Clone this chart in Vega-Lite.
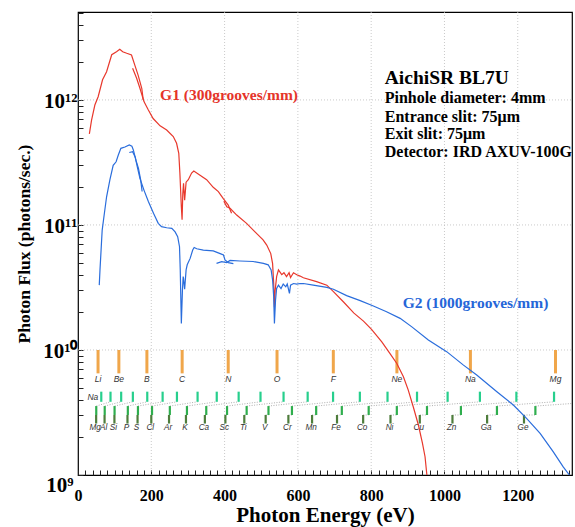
{
"$schema": "https://vega.github.io/schema/vega-lite/v6.json",
"width": 494, "height": 463,
"autosize": {"type": "none"},
"padding": {"left": 78, "top": 12, "right": 3, "bottom": 52},
"background": "white",
"config": {"view": {"stroke": "#000", "strokeWidth": 1.2}, "font": "Liberation Serif"},
"resolve": {"axis": {"x": "independent", "y": "independent"}},
"datasets": {
"curves": [
{"g":"G1","s":"r1","E":31,"F":5.35e11},{"g":"G1","s":"r1","E":37,"F":6.9e11},{"g":"G1","s":"r1","E":46,"F":9.1e11},{"g":"G1","s":"r1","E":55,"F":1.06e12},{"g":"G1","s":"r1","E":67,"F":1.45e12},{"g":"G1","s":"r1","E":78,"F":1.68e12},{"g":"G1","s":"r1","E":92,"F":2.3e12},{"g":"G1","s":"r1","E":105,"F":2.43e12},{"g":"G1","s":"r1","E":114,"F":2.54e12},{"g":"G1","s":"r1","E":122,"F":2.43e12},{"g":"G1","s":"r1","E":133,"F":2.36e12},{"g":"G1","s":"r1","E":146,"F":2.29e12},{"g":"G1","s":"r1","E":155,"F":1.9e12},{"g":"G1","s":"r1","E":164,"F":1.58e12},{"g":"G1","s":"r1","E":174,"F":1.24e12},{"g":"G1","s":"r1","E":178,"F":1.0e12},
{"g":"G1","s":"r2","E":149,"F":1.79e12},{"g":"G1","s":"r2","E":160,"F":1.49e12},{"g":"G1","s":"r2","E":169,"F":1.24e12},{"g":"G1","s":"r2","E":180,"F":9.7e11},{"g":"G1","s":"r2","E":192,"F":8.3e11},{"g":"G1","s":"r2","E":205,"F":7.1e11},{"g":"G1","s":"r2","E":224,"F":6.2e11},{"g":"G1","s":"r2","E":242,"F":5.75e11},{"g":"G1","s":"r2","E":260,"F":5.1e11},{"g":"G1","s":"r2","E":269,"F":4.5e11},{"g":"G1","s":"r2","E":275,"F":3.74e11},{"g":"G1","s":"r2","E":278,"F":2.6e11},{"g":"G1","s":"r2","E":282,"F":1.4e11},{"g":"G1","s":"r2","E":284,"F":1.1e11},{"g":"G1","s":"r2","E":286,"F":1.79e11},{"g":"G1","s":"r2","E":288,"F":2.15e11},{"g":"G1","s":"r2","E":291,"F":1.58e11},{"g":"G1","s":"r2","E":295,"F":2.2e11},{"g":"G1","s":"r2","E":301,"F":2.3e11},{"g":"G1","s":"r2","E":310,"F":2.6e11},{"g":"G1","s":"r2","E":316,"F":2.7e11},{"g":"G1","s":"r2","E":333,"F":2.5e11},{"g":"G1","s":"r2","E":351,"F":2.3e11},{"g":"G1","s":"r2","E":369,"F":2.0e11},{"g":"G1","s":"r2","E":383,"F":1.85e11},{"g":"G1","s":"r2","E":396,"F":1.63e11},{"g":"G1","s":"r2","E":410,"F":1.44e11},{"g":"G1","s":"r2","E":419,"F":1.24e11},
{"g":"G1","s":"r3","E":398,"F":1.55e11},{"g":"G1","s":"r3","E":406,"F":1.4e11},{"g":"G1","s":"r3","E":415,"F":1.36e11},{"g":"G1","s":"r3","E":433,"F":1.2e11},{"g":"G1","s":"r3","E":460,"F":1.03e11},{"g":"G1","s":"r3","E":483,"F":8.8e10},{"g":"G1","s":"r3","E":505,"F":7.6e10},{"g":"G1","s":"r3","E":515,"F":6.9e10},{"g":"G1","s":"r3","E":526,"F":5.9e10},{"g":"G1","s":"r3","E":531,"F":4.9e10},{"g":"G1","s":"r3","E":534,"F":3.4e10},{"g":"G1","s":"r3","E":536,"F":2.2e10},{"g":"G1","s":"r3","E":538,"F":3.0e10},{"g":"G1","s":"r3","E":542,"F":3.86e10},{"g":"G1","s":"r3","E":547,"F":4.37e10},{"g":"G1","s":"r3","E":556,"F":4.0e10},{"g":"G1","s":"r3","E":562,"F":4.15e10},{"g":"G1","s":"r3","E":569,"F":3.86e10},{"g":"G1","s":"r3","E":576,"F":4.15e10},{"g":"G1","s":"r3","E":580,"F":3.8e10},{"g":"G1","s":"r3","E":588,"F":4.15e10},{"g":"G1","s":"r3","E":597,"F":4.0e10},{"g":"G1","s":"r3","E":606,"F":3.9e10},{"g":"G1","s":"r3","E":615,"F":3.78e10},{"g":"G1","s":"r3","E":651,"F":3.52e10},{"g":"G1","s":"r3","E":679,"F":3.3e10},{"g":"G1","s":"r3","E":697,"F":2.93e10},{"g":"G1","s":"r3","E":724,"F":2.43e10},{"g":"G1","s":"r3","E":753,"F":1.97e10},{"g":"G1","s":"r3","E":779,"F":1.7e10},{"g":"G1","s":"r3","E":801,"F":1.46e10},{"g":"G1","s":"r3","E":829,"F":1.16e10},{"g":"G1","s":"r3","E":851,"F":9.4e9},{"g":"G1","s":"r3","E":870,"F":7.8e9},{"g":"G1","s":"r3","E":888,"F":6.1e9},{"g":"G1","s":"r3","E":901,"F":4.8e9},{"g":"G1","s":"r3","E":915,"F":3.5e9},{"g":"G1","s":"r3","E":929,"F":2.5e9},{"g":"G1","s":"r3","E":940,"F":1.79e9},{"g":"G1","s":"r3","E":947,"F":1.4e9},{"g":"G1","s":"r3","E":952,"F":1.0e9},
{"g":"G2","s":"b1","E":58,"F":3.3e10},{"g":"G2","s":"b1","E":60,"F":4.37e10},{"g":"G2","s":"b1","E":63,"F":6.3e10},{"g":"G2","s":"b1","E":66,"F":9.1e10},{"g":"G2","s":"b1","E":72,"F":1.24e11},{"g":"G2","s":"b1","E":78,"F":1.68e11},{"g":"G2","s":"b1","E":87,"F":2.29e11},{"g":"G2","s":"b1","E":96,"F":3.0e11},{"g":"G2","s":"b1","E":104,"F":3.2e11},{"g":"G2","s":"b1","E":110,"F":3.63e11},{"g":"G2","s":"b1","E":117,"F":4.1e11},{"g":"G2","s":"b1","E":128,"F":4.2e11},{"g":"G2","s":"b1","E":140,"F":4.37e11},{"g":"G2","s":"b1","E":147,"F":4.27e11},{"g":"G2","s":"b1","E":151,"F":3.98e11},{"g":"G2","s":"b1","E":158,"F":3.3e11},{"g":"G2","s":"b1","E":165,"F":2.84e11},{"g":"G2","s":"b1","E":171,"F":2.29e11},{"g":"G2","s":"b1","E":175,"F":1.85e11},
{"g":"G2","s":"b2","E":140,"F":3.8e11},{"g":"G2","s":"b2","E":149,"F":3.86e11},{"g":"G2","s":"b2","E":156,"F":3.5e11},{"g":"G2","s":"b2","E":162,"F":2.9e11},{"g":"G2","s":"b2","E":169,"F":2.36e11},{"g":"G2","s":"b2","E":180,"F":1.9e11},{"g":"G2","s":"b2","E":192,"F":1.54e11},{"g":"G2","s":"b2","E":206,"F":1.24e11},{"g":"G2","s":"b2","E":219,"F":1.03e11},{"g":"G2","s":"b2","E":228,"F":9.7e10},{"g":"G2","s":"b2","E":242,"F":9.5e10},{"g":"G2","s":"b2","E":256,"F":9.4e10},{"g":"G2","s":"b2","E":265,"F":8.8e10},{"g":"G2","s":"b2","E":272,"F":8.05e10},{"g":"G2","s":"b2","E":277,"F":6.7e10},{"g":"G2","s":"b2","E":279,"F":4.37e10},{"g":"G2","s":"b2","E":282,"F":1.63e10},{"g":"G2","s":"b2","E":285,"F":3.0e10},{"g":"G2","s":"b2","E":287,"F":3.86e10},{"g":"G2","s":"b2","E":288,"F":3.74e10},{"g":"G2","s":"b2","E":291,"F":3.06e10},{"g":"G2","s":"b2","E":295,"F":4.37e10},{"g":"G2","s":"b2","E":298,"F":4.8e10},{"g":"G2","s":"b2","E":306,"F":5.4e10},{"g":"G2","s":"b2","E":313,"F":6.3e10},{"g":"G2","s":"b2","E":317,"F":6.6e10},{"g":"G2","s":"b2","E":324,"F":6.45e10},{"g":"G2","s":"b2","E":342,"F":6.3e10},{"g":"G2","s":"b2","E":369,"F":6.2e10},{"g":"G2","s":"b2","E":388,"F":5.9e10},{"g":"G2","s":"b2","E":397,"F":5.75e10},{"g":"G2","s":"b2","E":401,"F":5.25e10},{"g":"G2","s":"b2","E":410,"F":5.0e10},{"g":"G2","s":"b2","E":424,"F":4.9e10},
{"g":"G2","s":"b3","E":378,"F":4.93e10},{"g":"G2","s":"b3","E":392,"F":5.08e10},{"g":"G2","s":"b3","E":406,"F":5.0e10},{"g":"G2","s":"b3","E":415,"F":5.2e10},{"g":"G2","s":"b3","E":442,"F":5.15e10},{"g":"G2","s":"b3","E":478,"F":5.1e10},{"g":"G2","s":"b3","E":506,"F":4.93e10},{"g":"G2","s":"b3","E":519,"F":4.8e10},{"g":"G2","s":"b3","E":527,"F":4.37e10},{"g":"G2","s":"b3","E":531,"F":3.63e10},{"g":"G2","s":"b3","E":534,"F":2.67e10},{"g":"G2","s":"b3","E":536,"F":1.63e10},{"g":"G2","s":"b3","E":539,"F":2.5e10},{"g":"G2","s":"b3","E":542,"F":3.1e10},{"g":"G2","s":"b3","E":547,"F":3.3e10},{"g":"G2","s":"b3","E":554,"F":3.1e10},{"g":"G2","s":"b3","E":560,"F":3.37e10},{"g":"G2","s":"b3","E":567,"F":3.2e10},{"g":"G2","s":"b3","E":571,"F":3.37e10},{"g":"G2","s":"b3","E":577,"F":2.84e10},{"g":"G2","s":"b3","E":580,"F":3.3e10},{"g":"G2","s":"b3","E":588,"F":3.4e10},{"g":"G2","s":"b3","E":597,"F":3.36e10},{"g":"G2","s":"b3","E":606,"F":3.4e10},{"g":"G2","s":"b3","E":615,"F":3.4e10},{"g":"G2","s":"b3","E":642,"F":3.3e10},{"g":"G2","s":"b3","E":679,"F":3.17e10},{"g":"G2","s":"b3","E":697,"F":3.06e10},{"g":"G2","s":"b3","E":733,"F":2.72e10},{"g":"G2","s":"b3","E":770,"F":2.48e10},{"g":"G2","s":"b3","E":806,"F":2.25e10},{"g":"G2","s":"b3","E":842,"F":2.02e10},{"g":"G2","s":"b3","E":879,"F":1.79e10},{"g":"G2","s":"b3","E":911,"F":1.53e10},{"g":"G2","s":"b3","E":956,"F":1.2e10},{"g":"G2","s":"b3","E":1006,"F":9.7e9},{"g":"G2","s":"b3","E":1051,"F":7.6e9},{"g":"G2","s":"b3","E":1088,"F":6.3e9},{"g":"G2","s":"b3","E":1143,"F":4.64e9},{"g":"G2","s":"b3","E":1188,"F":3.63e9},{"g":"G2","s":"b3","E":1224,"F":2.84e9},{"g":"G2","s":"b3","E":1261,"F":2.15e9},{"g":"G2","s":"b3","E":1297,"F":1.53e9},{"g":"G2","s":"b3","E":1324,"F":1.16e9},{"g":"G2","s":"b3","E":1341,"F":1.0e9}
],
"vgrid": [{"E":200},{"E":400},{"E":600},{"E":800},{"E":1000},{"E":1200}],
"hgrid": [{"F":1e10},{"F":1e11},{"F":1e12}],
"kedge": [{"el":"Li","E":54.7},{"el":"Be","E":111.5},{"el":"B","E":188},{"el":"C","E":284.2},{"el":"N","E":409.9},{"el":"O","E":543.1},{"el":"F","E":696.7},{"el":"Ne","E":870.2},{"el":"Na","E":1070.8},{"el":"Mg","E":1303}],
"l1": [{"el":"Na","E":63.5},{"el":"Mg","E":88.7},{"el":"Al","E":117.8},{"el":"Si","E":149.7},{"el":"P","E":189},{"el":"S","E":230.9},{"el":"Cl","E":270},{"el":"Ar","E":326.3},{"el":"K","E":378.6},{"el":"Ca","E":438.4},{"el":"Sc","E":498},{"el":"Ti","E":560.9},{"el":"V","E":626.7},{"el":"Cr","E":696},{"el":"Mn","E":769.1},{"el":"Fe","E":844.6},{"el":"Co","E":925.1},{"el":"Ni","E":1008.6},{"el":"Cu","E":1096.7},{"el":"Zn","E":1196.2},{"el":"Ga","E":1299}],
"l23": [{"el":"Mg","L1":88.7,"L2":49.8,"L3":49.5},{"el":"Al","L1":117.8,"L2":72.9,"L3":72.5},{"el":"Si","L1":149.7,"L2":99.8,"L3":99.4},{"el":"P","L1":189,"L2":136,"L3":135},{"el":"S","L1":230.9,"L2":163.6,"L3":162.5},{"el":"Cl","L1":270,"L2":202,"L3":200},{"el":"Ar","L1":326.3,"L2":250.6,"L3":248.4},{"el":"K","L1":378.6,"L2":297.3,"L3":294.6},{"el":"Ca","L1":438.4,"L2":350,"L3":346.2},{"el":"Sc","L1":498,"L2":406.7,"L3":402.2},{"el":"Ti","L1":560.9,"L2":460.2,"L3":453.8},{"el":"V","L1":626.7,"L2":519.8,"L3":512.1},{"el":"Cr","L1":696,"L2":583.8,"L3":574.1},{"el":"Mn","L1":769.1,"L2":649.9,"L3":638.7},{"el":"Fe","L1":844.6,"L2":719.9,"L3":706.8},{"el":"Co","L1":925.1,"L2":793.2,"L3":778.1},{"el":"Ni","L1":1008.6,"L2":870,"L3":852.7},{"el":"Cu","L1":1096.7,"L2":952.3,"L3":932.7},{"el":"Zn","L1":1196.2,"L2":1044.9,"L3":1021.8},{"el":"Ga","L1":1299,"L2":1143.2,"L3":1116.4},{"el":"Ge","L1":1414.6,"L2":1248.1,"L3":1217}],
"title": [{"text":"AichiSR BL7U","E":837,"F":1.341e12}],
"info": [{"text":"Pinhole diameter: 4mm","E":837,"F":9.4e11},{"text":"Entrance slit: 75μm","E":837,"F":6.7e11},{"text":"Exit slit: 75μm","E":837,"F":4.84e11},{"text":"Detector: IRD AXUV-100G","E":837,"F":3.52e11}],
"g1": [{"text":"G1 (300grooves/mm)","E":224,"F":9.97e11}],
"g2": [{"text":"G2 (1000grooves/mm)","E":886,"F":2.15e10}]
},
"layer": [
{"data":{"name":"vgrid"},"mark":{"type":"rule","color":"#bdbdbd","strokeWidth":0.8,"strokeDash":[1,2]},
 "encoding":{"x":{"field":"E","type":"quantitative","scale":{"domain":[0,1348],"nice":false,"zero":false},"axis":null},
  "y":{"datum":1e9,"type":"quantitative","scale":{"type":"log","domain":[1e9,5.05e12],"nice":false},"axis":null},
  "y2":{"datum":5.05e12}}},
{"data":{"name":"hgrid"},"mark":{"type":"rule","color":"#bdbdbd","strokeWidth":0.8,"strokeDash":[1,2]},
 "encoding":{"y":{"field":"F","type":"quantitative","scale":{"type":"log","domain":[1e9,5.05e12],"nice":false},"axis":null},
  "x":{"datum":0,"type":"quantitative","scale":{"domain":[0,1348],"nice":false,"zero":false},"axis":null},
  "x2":{"datum":1348}}},
{"data":{"name":"kedge"},"mark":{"type":"rule","color":"#f0a64a","strokeWidth":3},
 "encoding":{"x":{"field":"E","type":"quantitative","scale":{"domain":[0,1348],"nice":false,"zero":false},"axis":null},
  "y":{"datum":6.5e9,"type":"quantitative","scale":{"type":"log","domain":[1e9,5.05e12],"nice":false},"axis":null},
  "y2":{"datum":1e10}}},
{"data":{"name":"kedge"},"mark":{"type":"text","font":"Liberation Sans","fontStyle":"italic","fontSize":8.5,"color":"#333","align":"center","baseline":"middle"},
 "encoding":{"x":{"field":"E","type":"quantitative","scale":{"domain":[0,1348],"nice":false,"zero":false},"axis":null},
  "y":{"datum":5.9e9,"type":"quantitative","scale":{"type":"log","domain":[1e9,5.05e12],"nice":false},"axis":null},
  "text":{"field":"el"}}},
{"data":{"name":"l23"},"mark":{"type":"rule","color":"#999","strokeWidth":0.8,"strokeDash":[1,1.5],"clip":true},
 "encoding":{"x":{"field":"L2","type":"quantitative","scale":{"domain":[0,1348],"nice":false,"zero":false},"axis":null},"x2":{"field":"L1"},
  "y":{"datum":3.56e9,"type":"quantitative","scale":{"type":"log","domain":[1e9,5.05e12],"nice":false},"axis":null},"y2":{"datum":3.85e9}}},
{"data":{"name":"l23"},"mark":{"type":"rule","color":"#999","strokeWidth":0.8,"strokeDash":[1,1.5]},
 "encoding":{"x":{"field":"L3","type":"quantitative","scale":{"domain":[0,1348],"nice":false,"zero":false},"axis":null},"x2":{"field":"L2"},
  "y":{"datum":3.02e9,"type":"quantitative","scale":{"type":"log","domain":[1e9,5.05e12],"nice":false},"axis":null}}},
{"data":{"name":"l1"},"mark":{"type":"rule","color":"#27cf8d","strokeWidth":2.2},
 "encoding":{"x":{"field":"E","type":"quantitative","scale":{"domain":[0,1348],"nice":false,"zero":false},"axis":null},
  "y":{"datum":3.85e9,"type":"quantitative","scale":{"type":"log","domain":[1e9,5.05e12],"nice":false},"axis":null},"y2":{"datum":4.64e9}}},
{"data":{"name":"l23"},"mark":{"type":"rule","color":"#2fae4e","strokeWidth":2.2},
 "encoding":{"x":{"field":"L2","type":"quantitative","scale":{"domain":[0,1348],"nice":false,"zero":false},"axis":null},
  "y":{"datum":3.02e9,"type":"quantitative","scale":{"type":"log","domain":[1e9,5.05e12],"nice":false},"axis":null},"y2":{"datum":3.56e9}}},
{"data":{"name":"l23"},"mark":{"type":"rule","color":"#4e7d3c","strokeWidth":2.2},
 "encoding":{"x":{"field":"L3","type":"quantitative","scale":{"domain":[0,1348],"nice":false,"zero":false},"axis":null},
  "y":{"datum":2.58e9,"type":"quantitative","scale":{"type":"log","domain":[1e9,5.05e12],"nice":false},"axis":null},"y2":{"datum":3.02e9}}},
{"data":{"name":"l23"},"mark":{"type":"text","font":"Liberation Sans","fontStyle":"italic","fontSize":8.2,"color":"#333","align":"center","baseline":"middle","dx":-1},
 "encoding":{"x":{"field":"L3","type":"quantitative","scale":{"domain":[0,1348],"nice":false,"zero":false},"axis":null},
  "y":{"datum":2.37e9,"type":"quantitative","scale":{"type":"log","domain":[1e9,5.05e12],"nice":false},"axis":null},
  "text":{"field":"el"}}},
{"data":{"name":"l1"},"transform":[{"filter":"datum.el == 'Na'"}],"mark":{"type":"text","font":"Liberation Sans","fontStyle":"italic","fontSize":8.5,"color":"#333","align":"right","baseline":"middle","dx":-3},
 "encoding":{"x":{"field":"E","type":"quantitative","scale":{"domain":[0,1348],"nice":false,"zero":false},"axis":null},
  "y":{"datum":4.23e9,"type":"quantitative","scale":{"type":"log","domain":[1e9,5.05e12],"nice":false},"axis":null},
  "text":{"field":"el"}}},
{"data":{"name":"curves"},"mark":{"type":"line","strokeWidth":1.2,"clip":true},
 "encoding":{"x":{"field":"E","type":"quantitative","scale":{"domain":[0,1348],"nice":false,"zero":false},
   "axis":{"orient":"bottom","values":[0,20,40,60,80,100,120,140,160,180,200,220,240,260,280,300,320,340,360,380,400,420,440,460,480,500,520,540,560,580,600,620,640,660,680,700,720,740,760,780,800,820,840,860,880,900,920,940,960,980,1000,1020,1040,1060,1080,1100,1120,1140,1160,1180,1200,1220,1240,1260,1280,1300,1320,1340],
    "labelExpr":"datum.value % 200 == 0 ? format(datum.value, 'd') : ''","ticks":true,"tickSize":-5,"tickColor":"#222","tickWidth":1,"domain":false,"grid":false,
    "labelFont":"Liberation Serif","labelFontWeight":"bold","labelFontSize":16,"labelColor":"#000","labelPadding":17,"labelFlush":false,"labelOverlap":false,
    "title":"Photon Energy (eV)","titleFont":"Liberation Serif","titleFontWeight":"bold","titleFontSize":21,"titleColor":"#000","titlePadding":1}},
  "y":{"field":"F","type":"quantitative","scale":{"type":"log","domain":[1e9,5.05e12],"nice":false},
   "axis":{"orient":"left","values":[1e9,2e9,3e9,4e9,5e9,6e9,7e9,8e9,9e9,1e10,2e10,3e10,4e10,5e10,6e10,7e10,8e10,9e10,1e11,2e11,3e11,4e11,5e11,6e11,7e11,8e11,9e11,1e12,2e12,3e12,4e12,5e12],
    "ticks":true,"tickSize":-5,"tickColor":"#222","tickWidth":1,"domain":false,"grid":false,
    "labelExpr":"datum.value == 1e9 ? '10⁹' : datum.value == 1e10 ? '10¹⁰' : datum.value == 1e11 ? '10¹¹' : datum.value == 1e12 ? '10¹²' : ''",
    "labelFont":"Liberation Serif","labelFontWeight":"bold","labelFontSize":21,"labelColor":"#000","labelOverlap":false,
    "labelPadding":{"condition":{"test":"datum.value < 2e9","value":10},"value":6},"labelBaseline":"middle",
    "labelOffset":{"condition":{"test":"datum.value < 2e9","value":10},"value":2},
    "title":"Photon Flux (photons/sec.)","titleFont":"Liberation Serif","titleFontWeight":"bold","titleFontSize":17.5,"titleColor":"#000","titlePadding":9}},
  "color":{"field":"g","type":"nominal","scale":{"domain":["G1","G2"],"range":["#e8382c","#2a6ddc"]},"legend":null},
  "detail":{"field":"s"}}},
{"data":{"name":"title"},"mark":{"type":"text","font":"Liberation Serif","fontWeight":"bold","fontSize":19.5,"color":"#000","align":"left","baseline":"alphabetic"},
 "encoding":{"x":{"field":"E","type":"quantitative","scale":{"domain":[0,1348],"nice":false,"zero":false},"axis":null},
  "y":{"field":"F","type":"quantitative","scale":{"type":"log","domain":[1e9,5.05e12],"nice":false},"axis":null},
  "text":{"field":"text"}}},
{"data":{"name":"info"},"mark":{"type":"text","font":"Liberation Serif","fontWeight":"bold","fontSize":16,"color":"#000","align":"left","baseline":"alphabetic"},
 "encoding":{"x":{"field":"E","type":"quantitative","scale":{"domain":[0,1348],"nice":false,"zero":false},"axis":null},
  "y":{"field":"F","type":"quantitative","scale":{"type":"log","domain":[1e9,5.05e12],"nice":false},"axis":null},
  "text":{"field":"text"}}},
{"data":{"name":"g1"},"mark":{"type":"text","font":"Liberation Serif","fontWeight":"bold","fontSize":15.5,"color":"#e5342a","align":"left","baseline":"alphabetic"},
 "encoding":{"x":{"field":"E","type":"quantitative","scale":{"domain":[0,1348],"nice":false,"zero":false},"axis":null},
  "y":{"field":"F","type":"quantitative","scale":{"type":"log","domain":[1e9,5.05e12],"nice":false},"axis":null},
  "text":{"field":"text"}}},
{"data":{"name":"g2"},"mark":{"type":"text","font":"Liberation Serif","fontWeight":"bold","fontSize":15.5,"color":"#2566d8","align":"left","baseline":"alphabetic"},
 "encoding":{"x":{"field":"E","type":"quantitative","scale":{"domain":[0,1348],"nice":false,"zero":false},"axis":null},
  "y":{"field":"F","type":"quantitative","scale":{"type":"log","domain":[1e9,5.05e12],"nice":false},"axis":null},
  "text":{"field":"text"}}}
]
}
